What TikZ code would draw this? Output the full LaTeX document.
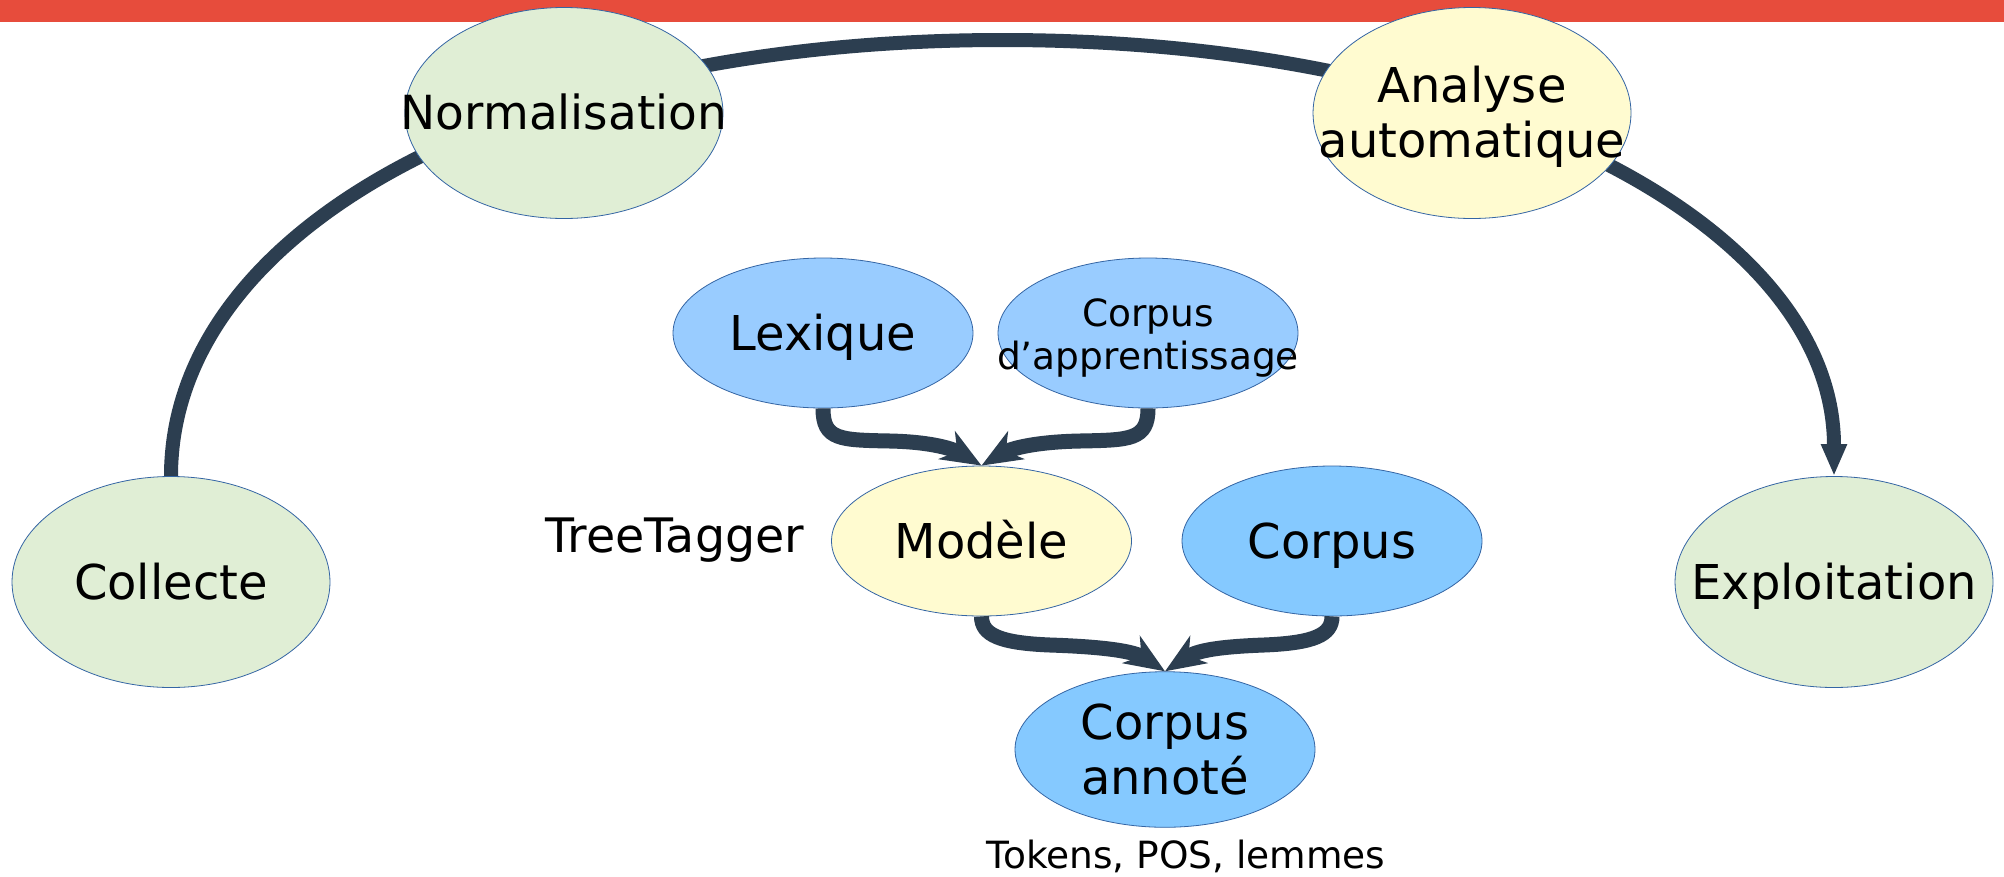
\documentclass[tikz,border=0pt]{standalone}
\usepackage{fontspec}
\setmainfont{DejaVu Sans}
\usepackage{xcolor}
\usepackage{tikz}
\usetikzlibrary{shapes.geometric,arrows.meta,backgrounds}
\definecolor{barRed}{HTML}{E74C3C}
\definecolor{flowDark}{HTML}{2C3E50}
\definecolor{stepGreen}{HTML}{E0EED5}
\definecolor{toolYellow}{HTML}{FFFBD0}
\definecolor{resBlue}{HTML}{99CCFF}
\definecolor{dataBlue}{HTML}{85C9FF}
\definecolor{rimBlue}{HTML}{3465A4}
\newcommand{\bigText}{\fontsize{48}{55}\selectfont}
\newcommand{\smallText}{\fontsize{37.5}{43}\selectfont}
\newcommand{\noteText}{\fontsize{37.5}{43}\selectfont}
\newcommand{\inEll}[1]{\raisebox{-6pt}[\height][\depth]{\makebox[0pt]{\begin{tabular}{@{}c@{}}#1\end{tabular}}}}
\newcommand{\bigW}{318pt}
\newcommand{\bigH}{211pt}
\newcommand{\midW}{300pt}
\newcommand{\midH}{150pt}

\tikzset{
	ell/.style={ellipse, draw=rimBlue, line width=0.8pt, inner sep=0pt},
	stepEll/.style={ell, fill=stepGreen, minimum width=\bigW, minimum height=\bigH, font=\bigText},
	toolEll/.style={ell, fill=toolYellow},
	resEll/.style={ell, fill=resBlue, minimum width=\midW, minimum height=\midH},
	dataEll/.style={ell, fill=dataBlue, minimum width=\midW, minimum height=\midH, font=\bigText},
	bigFlow/.style={draw=flowDark, line width=14pt, -{Triangle[width=24pt,length=32pt]}},
	flow/.style={draw=flowDark, line width=15pt, -{Stealth[length=40pt,width=32pt,inset=12pt]}}
}

\begin{document}
\begin{tikzpicture}[x=1pt,y=-1pt]
	\useasboundingbox (0,0) rectangle (2004,876);

	% pipeline steps
	\node[stepEll] (coll) at (171,582) {\inEll{Collecte}};
	\node[stepEll, font=\fontsize{47}{54}\selectfont] (norm) at (564,113) {\inEll{Normalisation}};
	\node[stepEll, fill=toolYellow] (anal) at (1472,113) {\inEll{Analyse\\automatique}};
	\node[stepEll] (expl) at (1834,582) {\inEll{Exploitation}};
	\coordinate (arcTop) at (1002.5,40);

	% TreeTagger inputs and outputs
	\node[resEll, font=\bigText] (lex) at (823,333) {\inEll{Lexique}};
	\node[resEll, font=\smallText] (app) at (1148,333) {\inEll{Corpus\\d’apprentissage}};
	\node[toolEll, minimum width=\midW, minimum height=\midH, font=\bigText] (mod) at (981.5,541) {\inEll{Modèle}};
	\node[dataEll] (corp) at (1332,541) {\inEll{Corpus}};
	\node[dataEll] (ann) at (1165,749.5) {\inEll{Corpus\\annoté}};
	\node[font=\fontsize{47.5}{54}\selectfont] (tagger) at (675,540) {TreeTagger};
	\node[font=\noteText] (tok) at (1186,856) {Tokens, POS, lemmes};

	\begin{scope}[on background layer]
		\fill[white] (0,0) rectangle (2004,876);
		\fill[barRed] (0,0) rectangle (2004,22);
		\draw[bigFlow] (coll.north) .. controls (171,225) and (520,40) .. (arcTop) .. controls (1485,40) and (1834,225) .. (expl.north);
	\end{scope}

	\draw[flow] (lex.south) .. controls (823,440) and (840,440) .. (890,441) .. controls (935,442) and (955,450) .. (mod.north);
	\draw[flow] (app.south) .. controls (1148,440) and (1130,440) .. (1080,441) .. controls (1030,442) and (1008,450) .. (mod.north);
	\draw[flow] (mod.south) .. controls (981.5,635) and (1000,643) .. (1050,645) .. controls (1110,647) and (1135,652) .. (ann.north);
	\draw[flow] (corp.south) .. controls (1332,635) and (1314,643) .. (1264,645) .. controls (1210,647) and (1195,652) .. (ann.north);
\end{tikzpicture}
\end{document}
